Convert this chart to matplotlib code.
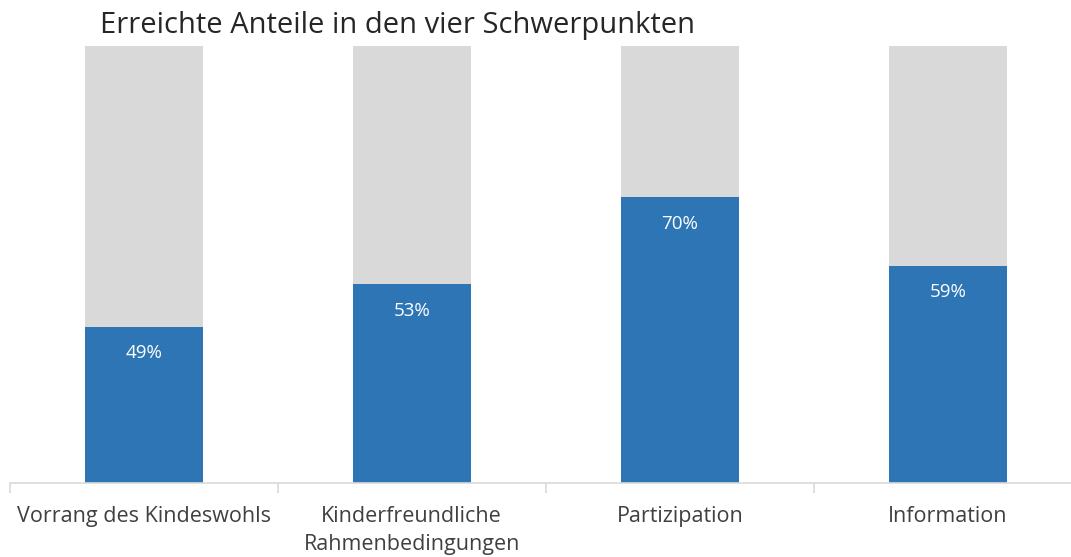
import matplotlib
matplotlib.use('Agg')
import matplotlib.pyplot as plt
import numpy as np

# data
schwerpunkte = ['Vorrang des Kindeswohls', 'Kinderfreundliche\nRahmenbedingungen',
                'Partizipation', 'Information']
erreicht = [35.7, 45.5, 65.4, 49.7]          # drawn height of the blue part (of 100)
anteil_labels = ['49%', '53%', '70%', '59%']  # printed labels
gesamt = 100

BLUE = '#2E75B6'
GREY = '#D9D9D9'
TEXT = '#404040'

plt.rcParams['font.family'] = ['Open Sans', 'DejaVu Sans']

fig = plt.figure(figsize=(10.71, 5.57), dpi=100, facecolor='white')
ax = fig.add_axes([9.5 / 1071, 74 / 557, (1082 - 9.5) / 1071, 437 / 557])

x = np.arange(len(schwerpunkte))
rest = [gesamt - v for v in erreicht]
bars = ax.bar(x, erreicht, width=0.44, color=BLUE, zorder=2)
ax.bar(x, rest, bottom=erreicht, width=0.44, color=GREY, zorder=2)

for bar, lab in zip(bars, anteil_labels):
    ax.annotate(lab, (bar.get_x() + bar.get_width() / 2, bar.get_height()),
                xytext=(0, -19), textcoords='offset points',
                ha='center', va='center', color='white', fontsize=13.5)

ax.set_xlim(-0.5, len(schwerpunkte) - 0.5)
ax.set_ylim(0, gesamt)
ax.set_yticks([])
for s in ['top', 'right', 'left']:
    ax.spines[s].set_visible(False)
ax.spines['bottom'].set_color(GREY)
ax.spines['bottom'].set_linewidth(1.2)

ax.set_xticks(x)
ax.set_xticklabels(schwerpunkte, fontsize=15.5, color=TEXT, linespacing=1.45)
ax.tick_params(axis='x', which='major', length=0, pad=16.5)
ax.set_xticks(np.arange(-0.5, len(schwerpunkte)), minor=True)
ax.tick_params(axis='x', which='minor', length=7, color=GREY, width=1.2)

fig.text(100 / 1071, 1 - 26 / 557, 'Erreichte Anteile in den vier Schwerpunkten',
         fontsize=21, color='#262626', ha='left', va='center')

fig.savefig('out.png', dpi=100, facecolor='white')
